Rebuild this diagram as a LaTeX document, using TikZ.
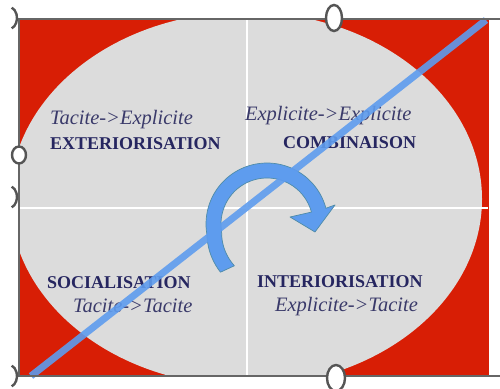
\documentclass[tikz,border=0pt]{standalone}
\usepackage{fontspec}
\setmainfont{Liberation Serif}
\definecolor{bgred}{HTML}{D81E05}
\definecolor{ovalgray}{HTML}{DCDCDC}
\definecolor{stagecol}{HTML}{262660}
\definecolor{flowcol}{HTML}{3A3A6A}
\definecolor{arrowblue}{HTML}{5E9CEE}
\definecolor{arrowedge}{HTML}{4F8CA8}
\definecolor{framecol}{HTML}{666666}
\definecolor{handlecol}{HTML}{555555}
\begin{document}
\begin{tikzpicture}[x=1pt,y=1pt,
  txt/.style={anchor=base west, inner sep=0pt, outer sep=0pt},
  stage/.style={txt, font=\fontsize{18}{20}\selectfont\bfseries, text=stagecol},
  flow/.style={txt, font=\fontsize{20.5}{22}\selectfont\itshape, text=flowcol},
  handle/.style={fill=white, draw=handlecol, line width=2.4pt},
  ghost/.style={draw=handlecol, line width=2.4pt},
  divider/.style={draw=white, line width=2.6pt},
  frame/.style={draw=framecol, line width=1.8pt},
]
\useasboundingbox (0,0) rectangle (500,388);

% red background panel with the grey oval on top
\fill[bgred] (20,12) rectangle (489,368);
\begin{scope}
  \clip (20,12) rectangle (489,368);
  \fill[ovalgray] (246,189) ellipse [x radius=236, y radius=187];
\end{scope}

% quadrant dividers
\draw[divider] (247,368) -- (247,12);
\draw[divider] (20,180) -- (488,180);

% quadrant labels
\node[flow]  (t1) at (50,263)  {Tacite->Explicite};
\node[stage] (b1) at (50,238)  {EXTERIORISATION};
\node[flow]  (t2) at (245,267) {Explicite->Explicite};
\node[stage] (b2) at (283,239) {COMBINAISON};
\node[stage] (b3) at (47,99)   {SOCIALISATION};
\node[flow]  (t3) at (73,75)   {Tacite->Tacite};
\node[stage] (b4) at (257,100) {INTERIORISATION};
\node[flow]  (t4) at (275,77)  {Explicite->Tacite};

% curved cycle arrow
\path[fill=arrowblue, draw=arrowedge, line width=0.7pt, line join=round]
  plot[domain=226:15, samples=60]
    ({267+(61+6*max(0,\x-190)/36)*cos(\x)}, {164+(61+6*max(0,\x-190)/36)*sin(\x)})
  -- (335,183) -- (315,156) -- (290,171)
  -- plot[domain=15:232, samples=60]
    ({267+(46+7*max(0,\x-190)/42)*cos(\x)}, {164+(46+7*max(0,\x-190)/42)*sin(\x)})
  -- cycle;

% diagonal stroke
\coordinate (dA) at (31,12);
\coordinate (dB) at (486,368);
\draw[arrowblue, line width=7pt, opacity=0.9] (dA) -- (dB);

% frame
\draw[frame] (500,369) -- (19,369) -- (19,12) -- (500,12);

% selection handles
\draw[handle] (19,233) ellipse [x radius=7, y radius=8.5];
\draw[handle] (334,370) ellipse [x radius=8, y radius=13];
\draw[handle] (336,10) ellipse [x radius=9, y radius=13];
\draw[ghost] (9,370) ++(-70:8 and 11) arc [start angle=-70, end angle=70, x radius=8, y radius=11];
\draw[ghost] (9,191) ++(-70:8 and 11) arc [start angle=-70, end angle=70, x radius=8, y radius=11];
\draw[ghost] (9,12) ++(-70:8 and 11) arc [start angle=-70, end angle=70, x radius=8, y radius=11];
\end{tikzpicture}
\end{document}
